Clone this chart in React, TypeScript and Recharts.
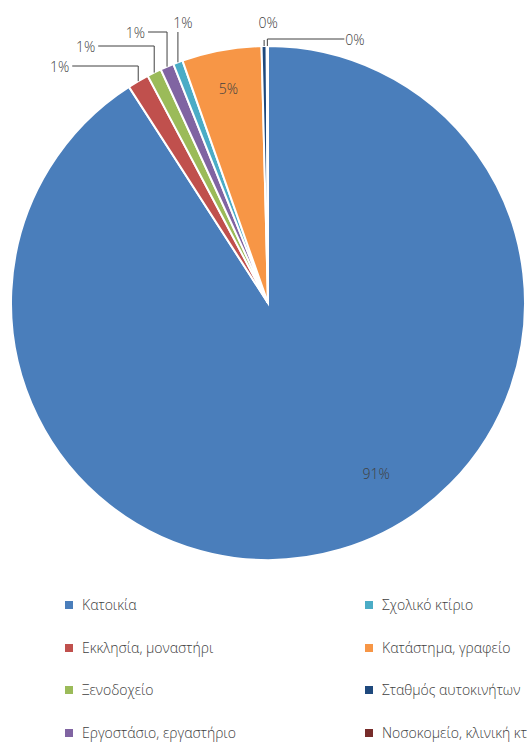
import React from 'react';
import { PieChart, Pie, Cell, Legend } from 'recharts';

const categories = [
  'Κατοικία',
  'Εκκλησία, μοναστήρι',
  'Ξενοδοχείο',
  'Εργοστάσιο, εργαστήριο',
  'Σχολικό κτίριο',
  'Κατάστημα, γραφείο',
  'Σταθμός αυτοκινήτων',
  'Νοσοκομείο, κλινική κτλ',
];
const shares = [90.9, 1.35, 0.9, 0.85, 0.6, 5.0, 0.32, 0.08];
const colors = ['#4A7EBB', '#C0504D', '#9BBB59', '#8064A2', '#4BACC6', '#F79646', '#1F497D', '#772C2A'];

const data = categories.map((name, i) => ({ name, value: shares[i] }));

const FONT = '"Open Sans", "Noto Sans", sans-serif';
const TEXT = '#404040';
const RAD = Math.PI / 180;

// label placement styles (layout only)
const labelStyles: any[] = [
  { mode: 'inside', angleShift: 16, ratio: 0.786 },
  { mode: 'elbow', rise: 20, run: -66 },
  { mode: 'elbow', rise: 0, run: -56 },
  { mode: 'elbow', rise: -14, run: -19 },
  { mode: 'vertical', rise: -14, tdx: 5, tdy: -10 },
  { mode: 'inside', angleShift: 0, ratio: 0.85 },
  { mode: 'vertical', rise: -6, tdx: 4, tdy: -18 },
  { mode: 'elbow', rise: -7, run: 77 },
];

const renderLabel = (props: any) => {
  const { cx, cy, midAngle, outerRadius, percent, index } = props;
  const st = labelStyles[index];
  const text = `${Math.round(percent * 100)}%`;
  const tStyle = { fontFamily: FONT, fontSize: 14, fontWeight: 300, fill: TEXT } as any;
  if (st.mode === 'inside') {
    const a = (midAngle + st.angleShift) * RAD;
    const x = cx + outerRadius * st.ratio * Math.cos(-a);
    const y = cy + outerRadius * st.ratio * Math.sin(-a);
    return (
      <text key={`l${index}`} x={x} y={y} textAnchor="middle" dominantBaseline="central" style={tStyle}>
        {text}
      </text>
    );
  }
  const ax = cx + outerRadius * Math.cos(-midAngle * RAD);
  const ay = cy + outerRadius * Math.sin(-midAngle * RAD);
  const topY = cy - outerRadius;
  const ey = topY + st.rise;
  if (st.mode === 'vertical') {
    return (
      <g key={`l${index}`}>
        <path d={`M${ax},${ay}V${ey}`} stroke={TEXT} strokeWidth={1} fill="none" />
        <text x={ax + st.tdx} y={ey + st.tdy} textAnchor="middle" dominantBaseline="central" style={tStyle}>
          {text}
        </text>
      </g>
    );
  }
  const ex = ax + st.run;
  return (
    <g key={`l${index}`}>
      <path d={`M${ax},${ay}V${ey}H${ex}`} stroke={TEXT} strokeWidth={1} fill="none" />
      <text
        x={st.run < 0 ? ex - 3 : ex + 1}
        y={ey}
        textAnchor={st.run < 0 ? 'end' : 'start'}
        dominantBaseline="central"
        style={tStyle}
      >
        {text}
      </text>
    </g>
  );
};

const rowCenters = [15, 58, 100, 143];

const renderLegend = (props: any) => {
  const payload = [...(props.payload || [])].sort(
    (a: any, b: any) => categories.indexOf(a.value) - categories.indexOf(b.value)
  );
  return (
    <div style={{ position: 'relative', width: 527, height: 155 }}>
      {payload.map((entry: any, i: number) => {
        const col = i < 4 ? 0 : 1;
        const row = i % 4;
        const left = col === 0 ? 65 : 365;
        const c = rowCenters[row];
        const ci = categories.indexOf(entry.value);
        return (
          <div key={i}>
            <div
              style={{
                position: 'absolute',
                left,
                top: c - 4,
                width: 8,
                height: 8,
                background: colors[ci >= 0 ? ci : i],
              }}
            />
            <div
              style={{
                position: 'absolute',
                left: left + 17,
                top: c - 10,
                lineHeight: '20px',
                fontSize: 14,
                fontWeight: 300,
                fontFamily: FONT,
                color: TEXT,
                whiteSpace: 'nowrap',
              }}
            >
              {entry.value}
            </div>
          </div>
        );
      })}
    </div>
  );
};

export default function App() {
  return (
    <div style={{ position: 'absolute', left: 0, top: 0, width: 527, height: 745, overflow: 'hidden', background: '#fff' }}>
      <PieChart width={527} height={745} margin={{ top: 0, right: 0, bottom: 0, left: 0 }}>
        <Pie
          data={data}
          dataKey="value"
          nameKey="name"
          cx={268}
          cy={303}
          outerRadius={257}
          startAngle={90}
          endAngle={-270}
          stroke="#ffffff"
          strokeWidth={2}
          label={renderLabel}
          labelLine={false}
          isAnimationActive={false}
        >
          {data.map((d, i) => (
            <Cell key={d.name} fill={colors[i]} />
          ))}
        </Pie>
        <Legend
          content={renderLegend}
          wrapperStyle={{ position: 'absolute', left: 0, top: 590, width: 527, height: 155, bottom: 'auto', margin: 0 }}
        />
      </PieChart>
    </div>
  );
}
